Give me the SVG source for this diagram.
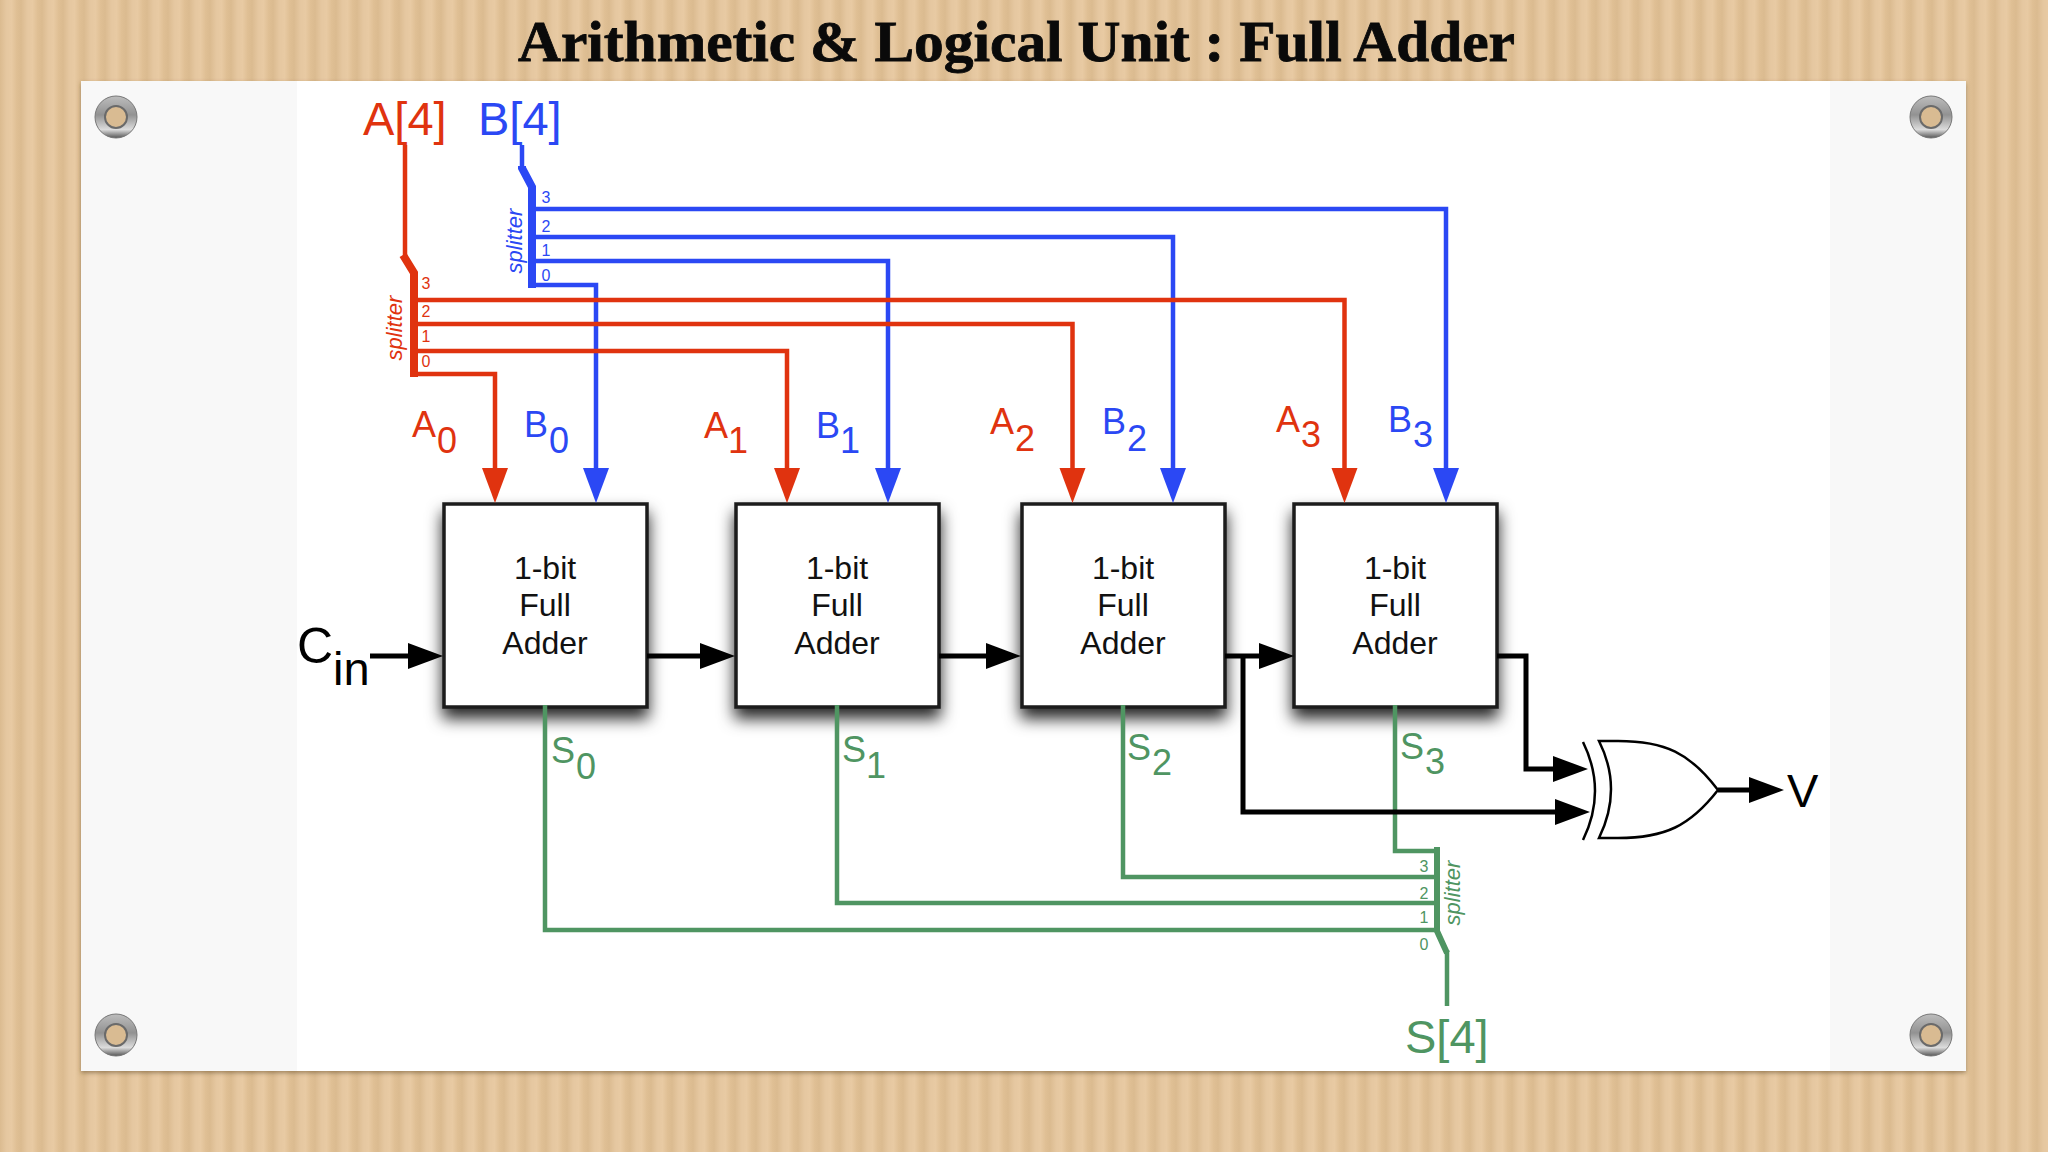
<svg xmlns="http://www.w3.org/2000/svg" width="2048" height="1152" viewBox="0 0 2048 1152">
<style>
text{font-family:"Liberation Sans",Arial,sans-serif}
.title{font-family:"Liberation Serif","Times New Roman",serif;font-weight:700;font-size:56px;fill:#0a0a0a;stroke:#0a0a0a;stroke-width:.8}
.box{fill:#fff;stroke:#1a1a1a;stroke-width:3.5;filter:url(#sh)}
.bt{font-size:32px;fill:#111;text-anchor:middle}
.w{fill:none;stroke-linejoin:miter;stroke-linecap:butt}
.r{stroke:#e0330f}.b{stroke:#2b48f4}.g{stroke:#4f9562}.k{stroke:#000}
.t5{stroke-width:4.5}.t6{stroke-width:6}.t8{stroke-width:8}.tk{stroke-width:5}
.fr{fill:#e0330f}.fb{fill:#2b48f4}.fg{fill:#4f9562}.fk{fill:#000}
.big{font-size:47px}.lab{font-size:36px}.dig{font-size:16px;text-anchor:middle}
.sp{font-size:22px;font-style:italic;text-anchor:middle}
</style>
<defs>
<linearGradient id="st" x1="0" x2="1" y1="0" y2="0">
<stop offset="0" stop-color="#dbbb90"/><stop offset=".3" stop-color="#e5c7a0"/><stop offset=".55" stop-color="#e8caa3"/><stop offset=".8" stop-color="#dfbf94"/><stop offset="1" stop-color="#dbbb90"/>
</linearGradient>
<pattern id="wood" width="21" height="40" patternUnits="userSpaceOnUse"><rect width="21" height="40" fill="url(#st)"/></pattern>
<linearGradient id="silver" x1="0" y1="0" x2="0" y2="1"><stop offset="0" stop-color="#bdbdbd"/><stop offset=".45" stop-color="#929292"/><stop offset=".8" stop-color="#dcdcdc"/><stop offset="1" stop-color="#565656"/></linearGradient>
<filter id="sh" x="-20%" y="-20%" width="140%" height="150%"><feDropShadow dx="0" dy="10" stdDeviation="8" flood-color="#000" flood-opacity=".85"/></filter>
<filter id="ps" x="-2%" y="-2%" width="104%" height="104%"><feDropShadow dx="0" dy="2" stdDeviation="2" flood-color="#5a4020" flood-opacity=".5"/></filter>
<marker id="ar" markerUnits="userSpaceOnUse" markerWidth="36" markerHeight="28" refX="2" refY="14" orient="auto"><path d="M0 1L35 14L0 27Z" fill="#e0330f"/></marker>
<marker id="ab" markerUnits="userSpaceOnUse" markerWidth="36" markerHeight="28" refX="2" refY="14" orient="auto"><path d="M0 1L35 14L0 27Z" fill="#2b48f4"/></marker>
<marker id="ak" markerUnits="userSpaceOnUse" markerWidth="36" markerHeight="28" refX="2" refY="14" orient="auto"><path d="M0 1L35 14L0 27Z" fill="#000"/></marker>
<g id="grommet"><circle r="21" fill="url(#silver)" stroke="#777" stroke-width="1"/><circle r="11" fill="#d9bb92" stroke="#6a6a6a" stroke-width="2"/></g>
</defs>

<rect width="2048" height="1152" fill="url(#wood)"/>
<text class="title" x="518" y="61" textLength="997" lengthAdjust="spacingAndGlyphs">Arithmetic &amp; Logical Unit : Full Adder</text>
<rect x="81" y="81" width="1885" height="990" fill="#f8f8f8" filter="url(#ps)"/>
<rect x="297" y="81" width="1533" height="990" fill="#fff"/>
<use href="#grommet" x="116" y="117"/><use href="#grommet" x="1931" y="117"/><use href="#grommet" x="116" y="1035"/><use href="#grommet" x="1931" y="1035"/>

<g id="node-fa0"><rect class="box" x="444" y="504" width="203" height="203"/><text class="bt" x="545" y="579">1-bit</text><text class="bt" x="545" y="616">Full</text><text class="bt" x="545" y="654">Adder</text></g>
<g id="node-fa1"><rect class="box" x="736" y="504" width="203" height="203"/><text class="bt" x="837" y="579">1-bit</text><text class="bt" x="837" y="616">Full</text><text class="bt" x="837" y="654">Adder</text></g>
<g id="node-fa2"><rect class="box" x="1022" y="504" width="203" height="203"/><text class="bt" x="1123" y="579">1-bit</text><text class="bt" x="1123" y="616">Full</text><text class="bt" x="1123" y="654">Adder</text></g>
<g id="node-fa3"><rect class="box" x="1294" y="504" width="203" height="203"/><text class="bt" x="1395" y="579">1-bit</text><text class="bt" x="1395" y="616">Full</text><text class="bt" x="1395" y="654">Adder</text></g>
<g id="node-xor" fill="none" stroke="#000" stroke-width="2.5">
<path d="M1583 742Q1607 791 1583 840"/>
<path d="M1599 741H1618C1665 741 1690 753 1718 790C1690 826 1665 838 1618 838H1599Q1623 789 1599 741Z" fill="#fff"/>
</g>

<g id="connectors">
<path class="w b t5" d="M522 145V168"/>
<path class="w b t8" d="M522 166V168L532 187V288"/>
<path class="w b t5" d="M532 209H1446V470" style="marker-end:url(#ab)"/>
<path class="w b t5" d="M532 237H1173V470" style="marker-end:url(#ab)"/>
<path class="w b t5" d="M532 261H888V470" style="marker-end:url(#ab)"/>
<path class="w b t5" d="M530 285H596V470" style="marker-end:url(#ab)"/>
<path class="w r t5" d="M405 145V258"/>
<path class="w r t8" d="M403 255L414 273V377"/>
<path class="w r t5" d="M414 300H1344.500V470" style="marker-end:url(#ar)"/>
<path class="w r t5" d="M414 324H1072.500V470" style="marker-end:url(#ar)"/>
<path class="w r t5" d="M414 351H787V470" style="marker-end:url(#ar)"/>
<path class="w r t5" d="M412 374H495V470" style="marker-end:url(#ar)"/>
<path class="w g t5" d="M545 705V930H1437"/>
<path class="w g t5" d="M837 705V903H1437"/>
<path class="w g t5" d="M1123 705V877H1437"/>
<path class="w g t5" d="M1395 705V851H1437"/>
<path class="w g t6" d="M1437 847V931L1447 953"/>
<path class="w g t5" d="M1447 950V1006"/>
<path class="w k tk" d="M370 656H410" style="marker-end:url(#ak)"/>
<path class="w k tk" d="M647 656H702" style="marker-end:url(#ak)"/>
<path class="w k tk" d="M939 656H988" style="marker-end:url(#ak)"/>
<path class="w k tk" d="M1225 656H1261" style="marker-end:url(#ak)"/>
<path class="w k tk" d="M1243 656V812H1557" style="marker-end:url(#ak)"/>
<path class="w k tk" d="M1497 656H1526V769H1555" style="marker-end:url(#ak)"/>
<path class="w k tk" d="M1718 790H1751" style="marker-end:url(#ak)"/>
</g>

<g id="labels">
<text class="big fr" x="363" y="135">A[4]</text>
<text class="big fb" x="478" y="135">B[4]</text>
<text class="big fg" x="1405" y="1053">S[4]</text>
<text class="big fk" x="1787" y="807">V</text>
<text class="fk" style="font-size:50px" x="297" y="663">C</text>
<text class="fk" style="font-size:47px" x="333" y="685">in</text>

<text class="lab fr" x="412" y="437">A</text><text class="lab fr" x="437" y="453">0</text>
<text class="lab fb" x="524" y="437">B</text><text class="lab fb" x="549" y="453">0</text>
<text class="lab fr" x="704" y="438">A</text><text class="lab fr" x="728" y="453">1</text>
<text class="lab fb" x="816" y="438">B</text><text class="lab fb" x="840" y="453">1</text>
<text class="lab fr" x="990" y="434">A</text><text class="lab fr" x="1015" y="451">2</text>
<text class="lab fb" x="1102" y="434">B</text><text class="lab fb" x="1127" y="451">2</text>
<text class="lab fr" x="1276" y="432">A</text><text class="lab fr" x="1301" y="447">3</text>
<text class="lab fb" x="1388" y="432">B</text><text class="lab fb" x="1413" y="447">3</text>
<text class="lab fg" x="551" y="763">S</text><text class="lab fg" x="576" y="779">0</text>
<text class="lab fg" x="842" y="762">S</text><text class="lab fg" x="866" y="778">1</text>
<text class="lab fg" x="1127" y="760">S</text><text class="lab fg" x="1152" y="775">2</text>
<text class="lab fg" x="1400" y="759">S</text><text class="lab fg" x="1425" y="774">3</text>

<text class="dig fr" x="426" y="289">3</text><text class="dig fr" x="426" y="317">2</text><text class="dig fr" x="426" y="342">1</text><text class="dig fr" x="426" y="367">0</text>
<text class="dig fb" x="546" y="203">3</text><text class="dig fb" x="546" y="232">2</text><text class="dig fb" x="546" y="256">1</text><text class="dig fb" x="546" y="281">0</text>
<text class="dig fg" x="1424" y="872">3</text><text class="dig fg" x="1424" y="899">2</text><text class="dig fg" x="1424" y="923">1</text><text class="dig fg" x="1424" y="950">0</text>
<text class="sp fr" transform="translate(402 328) rotate(-90)">splitter</text>
<text class="sp fb" transform="translate(522 241) rotate(-90)">splitter</text>
<text class="sp fg" transform="translate(1460 893) rotate(-90)">splitter</text>
</g>
</svg>
